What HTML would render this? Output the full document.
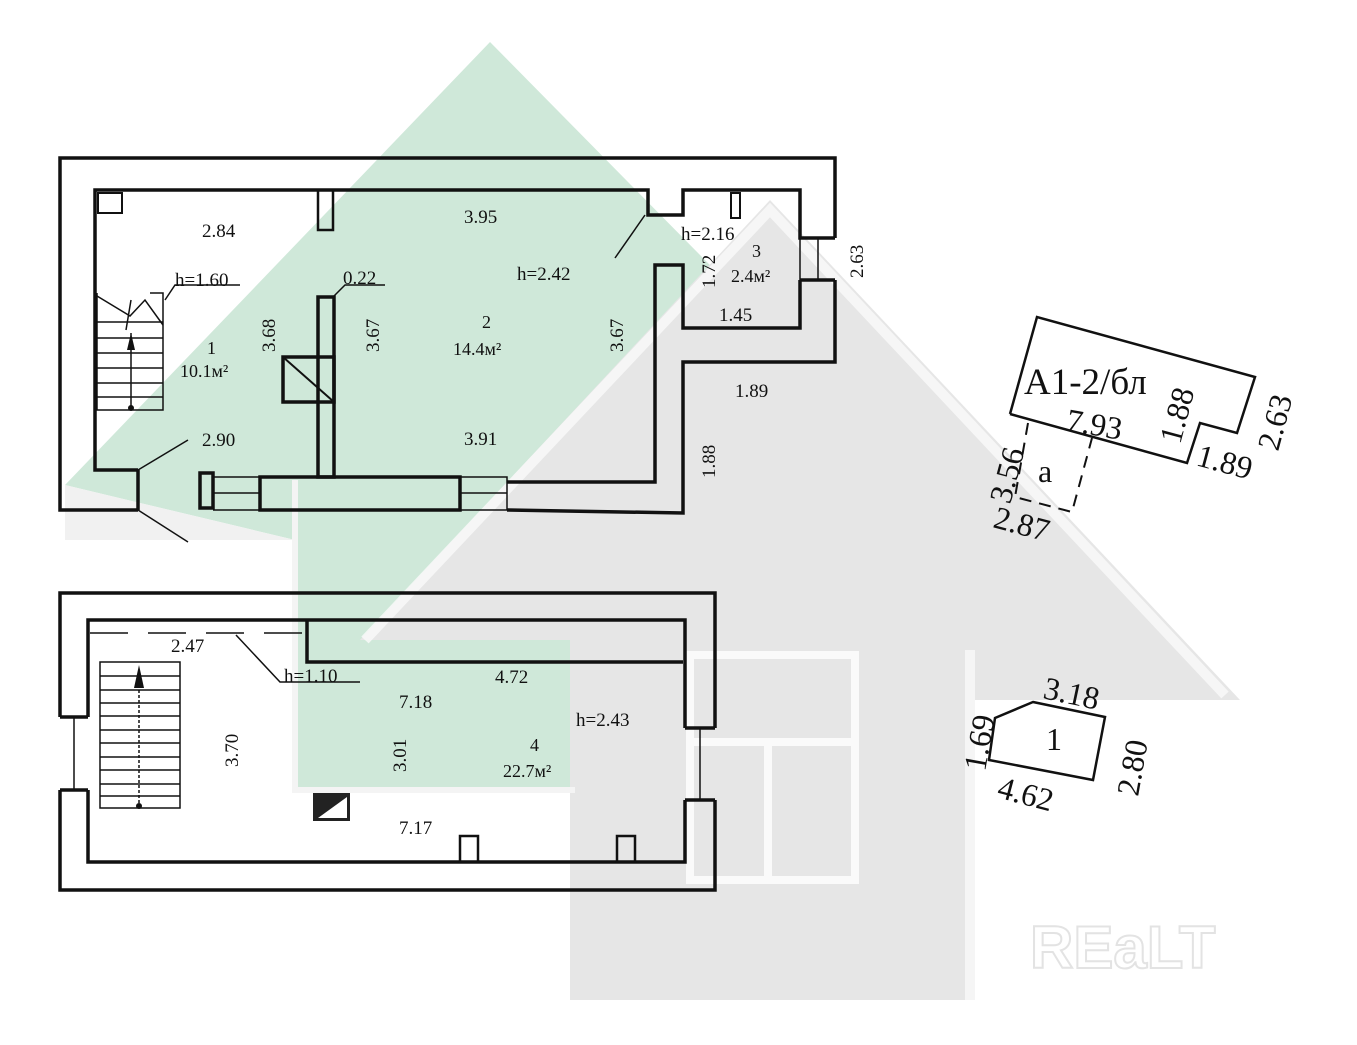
<!DOCTYPE html>
<html><head><meta charset="utf-8"><style>
html,body{margin:0;padding:0;background:#fff;}
svg{display:block;}
text{font-family:"Liberation Serif",serif;fill:#111;}
</style></head><body>
<svg width="1357" height="1045" viewBox="0 0 1357 1045" xmlns="http://www.w3.org/2000/svg">
<polygon points="490,42 910,468 575,468 575,790 295,790 295,540 65,485" fill="#cfe8d9"/>
<polygon points="65,485 295,540 295,540 65,540" fill="#f1f1f1"/>
<polygon points="770,200 1240,700 975,700 975,1000 570,1000 570,640 360,640" fill="#e6e6e6"/>
<polyline points="365,640 770,210 1225,695" fill="none" stroke="#fafafa" stroke-width="10" opacity="0.8"/>
<polyline points="295,480 295,790 575,790" fill="none" stroke="#f4f4f4" stroke-width="6"/>
<rect x="690" y="655" width="165" height="225" fill="none" stroke="#fafafa" stroke-width="8"/>
<line x1="690" y1="742" x2="855" y2="742" stroke="#fafafa" stroke-width="8"/>
<line x1="768" y1="742" x2="768" y2="880" stroke="#fafafa" stroke-width="8"/>
<rect x="965" y="650" width="10" height="350" fill="#f5f5f5"/>
<text x="1030" y="968" font-size="60" font-weight="bold" style="font-family:'Liberation Sans',sans-serif;fill:#fff;stroke:#e3e3e3;stroke-width:2">REaLT</text>

<g fill="none" stroke="#111" stroke-width="3.5">
<polyline points="138,510 60,510 60,158 835,158 835,238"/>
<polyline points="835,280 835,362 683,362 683,513 507,510"/>
<polyline points="138,470 95,470 95,190 648,190 648,215 683,215 683,190 800,190 800,238 835,238"/>
<polyline points="800,280 835,280"/>
<line x1="800" y1="238" x2="800" y2="280" stroke-width="1.5"/>
<line x1="818" y1="238" x2="818" y2="280" stroke-width="1.5"/>
<polyline points="800,280 800,328 683,328 683,265 655,265 655,482 507,482"/>
<line x1="138" y1="470" x2="138" y2="510"/>
<rect x="200" y="473" width="13" height="35"/>
<rect x="260" y="477" width="200" height="33"/>
<rect x="460" y="477" width="47" height="33" stroke-width="1.5"/>
<line x1="460" y1="493" x2="507" y2="493" stroke-width="1.5"/>
<line x1="213" y1="493" x2="260" y2="493" stroke-width="1.5"/>
<line x1="213" y1="477" x2="260" y2="477" stroke-width="1.5"/>
<line x1="213" y1="510" x2="260" y2="510" stroke-width="1.5"/>
<rect x="318" y="297" width="16" height="180"/>
<rect x="283" y="357" width="51" height="45"/>
<line x1="283" y1="357" x2="334" y2="402" stroke-width="2"/>
<rect x="318" y="190" width="15" height="40" stroke-width="2.5"/>
<rect x="731" y="193" width="9" height="25" stroke-width="2"/>
<rect x="98" y="193" width="24" height="20" stroke-width="2"/>
</g>
<g stroke="#111" stroke-width="1.5" fill="none">
<line x1="138" y1="510" x2="188" y2="542"/>
<line x1="138" y1="470" x2="188" y2="440"/>
<line x1="615" y1="258" x2="645" y2="215"/>
<polyline points="165,300 175,285 240,285"/>
<polyline points="333,297 345,285 385,285"/>
<polyline points="97,293 97,410 163,410 163,293 150,293"/>
<line x1="97" y1="322" x2="163" y2="322"/><line x1="97" y1="338" x2="163" y2="338"/>
<line x1="97" y1="353" x2="163" y2="353"/><line x1="97" y1="368" x2="163" y2="368"/>
<line x1="97" y1="383" x2="163" y2="383"/><line x1="97" y1="397" x2="163" y2="397"/>
<polyline points="97,296 130,316 145,300 163,325"/>
<line x1="131" y1="333" x2="131" y2="408"/>
<line x1="131" y1="300" x2="126" y2="330"/>
</g>
<polygon points="131,333 127,350 135,350" fill="#111"/>
<circle cx="131" cy="408" r="3" fill="#111"/>

<g fill="none" stroke="#111" stroke-width="3.5">
<polyline points="60,717 60,593 715,593 715,728"/>
<polyline points="715,800 715,890 60,890 60,790"/>
<polyline points="88,717 88,620 685,620 685,728"/>
<polyline points="685,800 685,862 88,862 88,790"/>
<line x1="60" y1="717" x2="88" y2="717"/><line x1="60" y1="790" x2="88" y2="790"/>
<line x1="685" y1="728" x2="715" y2="728"/><line x1="685" y1="800" x2="715" y2="800"/>
<polyline points="307,620 307,662 683,662"/>
<rect x="460" y="836" width="18" height="26" stroke-width="2.5"/>
<rect x="617" y="836" width="18" height="26" stroke-width="2.5"/>
</g>
<g stroke="#111" stroke-width="1.5" fill="none">
<line x1="74" y1="717" x2="74" y2="790"/>
<line x1="700" y1="728" x2="700" y2="800"/>
<line x1="90" y1="633" x2="307" y2="633" stroke-dasharray="38,20"/>
<polyline points="236,635 280,682 360,682"/>
<rect x="100" y="662" width="80" height="146"/>
<line x1="100" y1="676" x2="180" y2="676"/><line x1="100" y1="690" x2="180" y2="690"/>
<line x1="100" y1="703" x2="180" y2="703"/><line x1="100" y1="716" x2="180" y2="716"/>
<line x1="100" y1="730" x2="180" y2="730"/><line x1="100" y1="743" x2="180" y2="743"/>
<line x1="100" y1="757" x2="180" y2="757"/><line x1="100" y1="770" x2="180" y2="770"/>
<line x1="100" y1="784" x2="180" y2="784"/><line x1="100" y1="796" x2="180" y2="796"/>
<line x1="139" y1="685" x2="139" y2="806" stroke-dasharray="3,2"/>
</g>
<polygon points="139,665 134,688 144,688" fill="#111"/>
<circle cx="139" cy="806" r="3" fill="#111"/>
<rect x="313" y="793" width="37" height="28" fill="#222"/>
<polygon points="318,818 347,818 347,797" fill="#fff"/>

<g font-size="19">
<text x="202" y="237">2.84</text>
<text x="464" y="223">3.95</text>
<text x="681" y="240">h=2.16</text>
<text x="752" y="257" font-size="18">3</text>
<text x="731" y="282" font-size="18">2.4м²</text>
<text x="719" y="321">1.45</text>
<text x="175" y="286">h=1.60</text>
<text x="343" y="284">0.22</text>
<text x="517" y="280">h=2.42</text>
<text x="482" y="328" font-size="18">2</text>
<text x="453" y="355" font-size="18">14.4м²</text>
<text x="207" y="354" font-size="18">1</text>
<text x="180" y="377" font-size="18">10.1м²</text>
<text x="735" y="397">1.89</text>
<text x="202" y="446">2.90</text>
<text x="464" y="445">3.91</text>
<text transform="translate(275,352) rotate(-90)">3.68</text>
<text transform="translate(379,352) rotate(-90)">3.67</text>
<text transform="translate(623,352) rotate(-90)">3.67</text>
<text transform="translate(715,478) rotate(-90)">1.88</text>
<text transform="translate(715,288) rotate(-90)">1.72</text>
<text transform="translate(863,278) rotate(-90)">2.63</text>
</g>
<g font-size="19">
<text x="171" y="652">2.47</text>
<text x="284" y="682">h=1.10</text>
<text x="495" y="683">4.72</text>
<text x="399" y="708">7.18</text>
<text x="576" y="726">h=2.43</text>
<text x="530" y="751" font-size="18">4</text>
<text x="503" y="777" font-size="18">22.7м²</text>
<text x="399" y="834">7.17</text>
<text transform="translate(238,767) rotate(-90)">3.70</text>
<text transform="translate(406,772) rotate(-90)">3.01</text>
</g>

<g fill="none" stroke="#111" stroke-width="2.5">
<polyline points="1010,414 1037,317 1255,377 1237,433 1200,423 1187,463 1010,414"/>
<polyline points="1028,423 1015,497 1072,512 1092,438" stroke-dasharray="12,8" stroke-width="2"/>
<polygon points="1033,702 1105,717 1093,780 989,760 995,718"/>
</g>
<g font-size="32">
<text x="1024" y="394" font-size="37">A1-2/бл</text>
<text x="1065" y="430" transform="rotate(10 1065 430)">7.93</text>
<text x="1038" y="482">a</text>
<text x="1180" y="445" transform="rotate(-75 1180 445)">1.88</text>
<text x="1195" y="465" transform="rotate(15 1195 465)">1.89</text>
<text x="1278" y="452" transform="rotate(-75 1278 452)">2.63</text>
<text x="1010" y="505" transform="rotate(-75 1010 505)">3.56</text>
<text x="992" y="527" transform="rotate(15 992 527)">2.87</text>
<text x="1042" y="698" transform="rotate(12 1042 698)">3.18</text>
<text x="1046" y="750">1</text>
<text x="985" y="772" transform="rotate(-80 985 772)">1.69</text>
<text x="996" y="797" transform="rotate(15 996 797)">4.62</text>
<text x="1138" y="797" transform="rotate(-80 1138 797)">2.80</text>
</g>
</svg>
</body></html>
